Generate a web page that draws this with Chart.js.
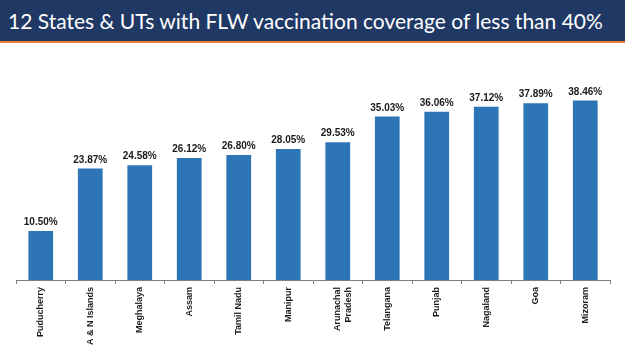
<!DOCTYPE html>
<html lang="en">
<head>
    <meta charset="utf-8">
    <title>FLW vaccination coverage</title>
    <script src="https://cdn.jsdelivr.net/npm/chart.js"></script>
    <style>
        body { margin: 0; width: 625px; height: 351px; overflow: hidden; background: #fff; }
        .header {
            height: 41px;
            background: #1f3864;
            border-bottom: 2px solid #ed7d31;
            color: #fff;
            font-family: Lato, sans-serif;
            font-size: 21px;
            line-height: 41px;
            padding-left: 8px;
            white-space: nowrap;
        }
        .chart-box { position: absolute; left: 0; top: 43px; width: 625px; height: 308px; }
    </style>
</head>
<body>
    <div class="header">12 States &amp; UTs with FLW vaccination coverage of less than 40%</div>
    <div class="chart-box"><canvas id="coverageChart"></canvas></div>

    <script>
        const states = ['Puducherry', 'A & N Islands', 'Meghalaya', 'Assam', 'Tamil Nadu', 'Manipur',
            ['Arunachal', 'Pradesh'], 'Telangana', 'Punjab', 'Nagaland', 'Goa', 'Mizoram'];
        const coverage = [10.50, 23.87, 24.58, 26.12, 26.80, 28.05, 29.53, 35.03, 36.06, 37.12, 37.89, 38.46];

        // draws the value above each bar
        const valueLabels = {
            id: 'valueLabels',
            afterDatasetsDraw(chart) {
                const ctx = chart.ctx;
                ctx.save();
                ctx.font = 'bold 10px "Liberation Sans", sans-serif';
                ctx.fillStyle = '#1a1a1a';
                ctx.textAlign = 'center';
                ctx.textBaseline = 'alphabetic';
                chart.getDatasetMeta(0).data.forEach((bar, i) => {
                    ctx.fillText(coverage[i].toFixed(2) + '%', bar.x, bar.y - 6);
                });
                ctx.restore();
            }
        };

        new Chart(document.getElementById('coverageChart'), {
            type: 'bar',
            data: {
                labels: states,
                datasets: [{
                    data: coverage,
                    backgroundColor: '#2e75b6',
                    barPercentage: 0.5,
                    categoryPercentage: 1
                }]
            },
            options: {
                responsive: true,
                maintainAspectRatio: false,
                animation: false,
                layout: { padding: { top: 27, left: 16, right: 15, bottom: 0 } },
                plugins: {
                    legend: { display: false },
                    tooltip: { enabled: false }
                },
                scales: {
                    y: { display: false, min: 0, max: 45 },
                    x: {
                        afterFit: (scale) => { scale.height = 71; },
                        border: { color: '#7f7f7f', width: 1 },
                        grid: { drawOnChartArea: false, color: '#7f7f7f', tickLength: 4 },
                        ticks: {
                            minRotation: 90,
                            maxRotation: 90,
                            padding: 3,
                            color: '#1a1a1a',
                            font: { family: '"Liberation Sans", sans-serif', size: 9, weight: 'bold' }
                        }
                    }
                }
            },
            plugins: [valueLabels]
        });
    </script>
</body>
</html>
